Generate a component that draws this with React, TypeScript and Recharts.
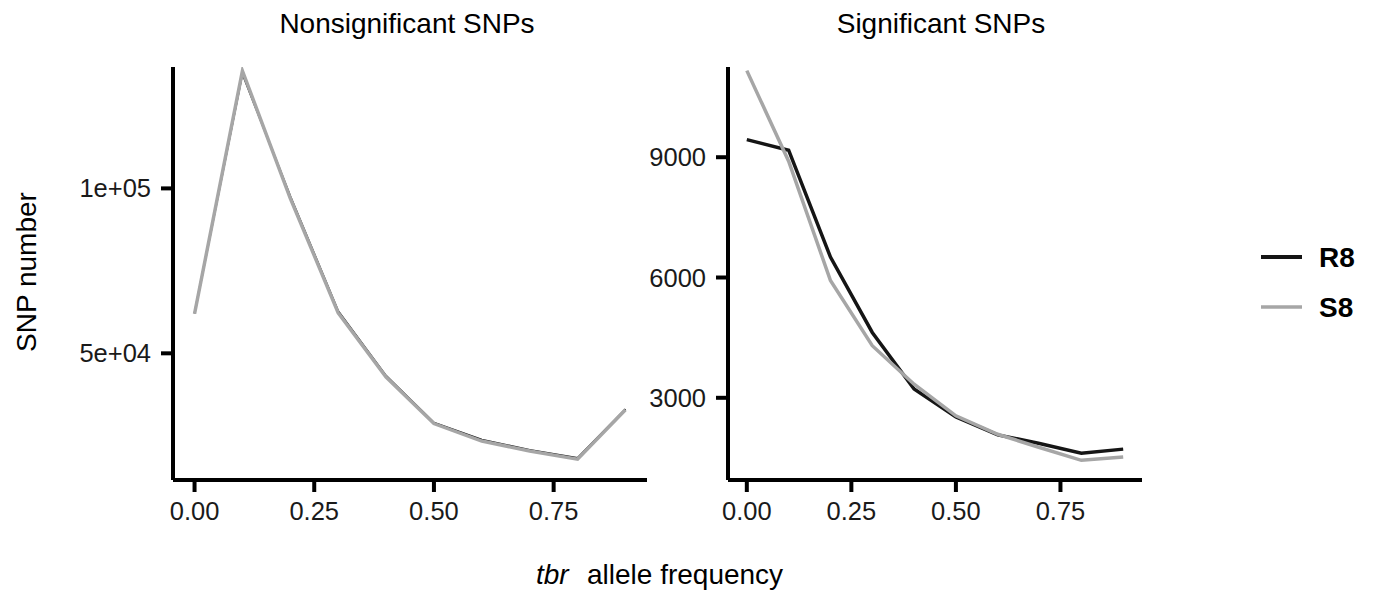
import { LineChart, Line, XAxis, YAxis, Legend } from 'recharts'

const FONT = '"Liberation Sans", Arial, Helvetica, sans-serif'

// allele frequency bins
const freq = [0, 0.1, 0.2, 0.3, 0.4, 0.5, 0.6, 0.7, 0.8, 0.9]
// SNP counts
const nonsigR8 = [62100, 134800, 97600, 62800, 43200, 29000, 23800, 20700, 18300, 33100]
const nonsigS8 = [62000, 135600, 97000, 62300, 42800, 28700, 23400, 20400, 17900, 32900]
const sigR8 = [9440, 9175, 6510, 4630, 3220, 2525, 2075, 1860, 1620, 1720]
const sigS8 = [11160, 8900, 5925, 4300, 3340, 2550, 2090, 1760, 1440, 1525]

const xTicks = [0, 0.25, 0.5, 0.75]
const nonsigTicks = [50000, 100000]
const nonsigTickLabels = ['5e+04', '1e+05']
const sigTicks = [3000, 6000, 9000]
const seriesNames = ['R8', 'S8']
const seriesColors = ['#151515', '#a6a6a6']

const nonsigData = freq.map((f, i) => ({ freq: f, R8: nonsigR8[i], S8: nonsigS8[i] }))
const sigData = freq.map((f, i) => ({ freq: f, R8: sigR8[i], S8: sigS8[i] }))

const TICK_SIZE = 25.5
const lineStyle = { stroke: '#000', strokeWidth: 4 }

// tick label renderers with explicit font size
function XTick(props: any) {
  const { x, y, payload } = props
  return (
    <text x={x} y={y} dy={25} textAnchor="middle" fontSize={TICK_SIZE} fontFamily={FONT} fill="#1a1a1a">
      {Number(payload.value).toFixed(2)}
    </text>
  )
}

function makeYTick(labels?: string[], ticks?: number[]) {
  return (props: any) => {
    const { x, y, payload } = props
    const label = labels && ticks ? labels[ticks.indexOf(payload.value)] : String(payload.value)
    return (
      <text x={x} y={y} dy={9} textAnchor="end" fontSize={TICK_SIZE} fontFamily={FONT} fill="#1a1a1a">{label}</text>
    )
  }
}

function LegendBox() {
  return (
    <svg width={120} height={110} style={{ display: 'block', overflow: 'visible' }}>
      {seriesNames.map((name, i) => (
        <g key={name} transform={`translate(0, ${37 + i * 50})`}>
          <line x1={0} x2={41} y1={0} y2={0} stroke={seriesColors[i]} strokeWidth={i === 0 ? 4 : 3.5} />
          <text x={58} y={0} dy="0.36em" fontSize={28} fontWeight="bold" fontFamily={FONT} fill="#000">{name}</text>
        </g>
      ))}
    </svg>
  )
}

function xAxis() {
  return (
    <XAxis dataKey="freq" type="number" domain={[-0.045, 0.945]} ticks={xTicks} interval={0}
      allowDataOverflow height={60} tick={<XTick />} tickSize={12} tickMargin={3}
      axisLine={lineStyle} tickLine={lineStyle} />
  )
}

export default function App() {
  return (
    <div style={{ position: 'absolute', left: 0, top: 0, width: 1374, height: 593, background: '#fff', fontFamily: FONT }}>
      <div style={{ position: 'absolute', left: 0, top: 0 }}>
        <LineChart width={680} height={540} data={nonsigData} margin={{ top: 67, right: 33, left: 0, bottom: 0 }}>
          {xAxis()}
          <YAxis type="number" domain={[11600, 136800]} ticks={nonsigTicks} interval={0} allowDataOverflow width={173}
            tick={makeYTick(nonsigTickLabels, nonsigTicks)} tickSize={12} tickMargin={10}
            axisLine={lineStyle} tickLine={lineStyle} />
          <Line type="linear" dataKey="R8" stroke={seriesColors[0]} strokeWidth={2} dot={false} isAnimationActive={false} />
          <Line type="linear" dataKey="S8" stroke={seriesColors[1]} strokeWidth={3.5} dot={false} isAnimationActive={false} />
        </LineChart>
      </div>
      <div style={{ position: 'absolute', left: 600, top: 0 }}>
        <LineChart width={774} height={540} data={sigData} margin={{ top: 67, right: 232, left: 0, bottom: 0 }}>
          {xAxis()}
          <YAxis type="number" domain={[950, 11250]} ticks={sigTicks} interval={0} allowDataOverflow width={128}
            tick={makeYTick()} tickSize={12} tickMargin={10} axisLine={lineStyle} tickLine={lineStyle} />
          <Line type="linear" dataKey="R8" stroke={seriesColors[0]} strokeWidth={3.5} dot={false} isAnimationActive={false} />
          <Line type="linear" dataKey="S8" stroke={seriesColors[1]} strokeWidth={3.5} dot={false} isAnimationActive={false} />
          <Legend layout="vertical" align="center" verticalAlign="middle" content={() => <LegendBox />}
            wrapperStyle={{ left: 661, top: 220, width: 120, height: 110 }} />
        </LineChart>
      </div>
      <svg width={1374} height={593} style={{ position: 'absolute', left: 0, top: 0, pointerEvents: 'none' }}>
        <g fontFamily={FONT} fontSize={28} fill="#000">
          <text x={407} y={33} textAnchor="middle">Nonsignificant SNPs</text>
          <text x={941} y={33} textAnchor="middle">Significant SNPs</text>
          <text transform="translate(36, 272) rotate(-90)" textAnchor="middle">SNP number</text>
          <text y={584}>
            <tspan x={536} fontStyle="italic">tbr</tspan>
            <tspan x={587}>allele frequency</tspan>
          </text>
        </g>
      </svg>
    </div>
  )
}
